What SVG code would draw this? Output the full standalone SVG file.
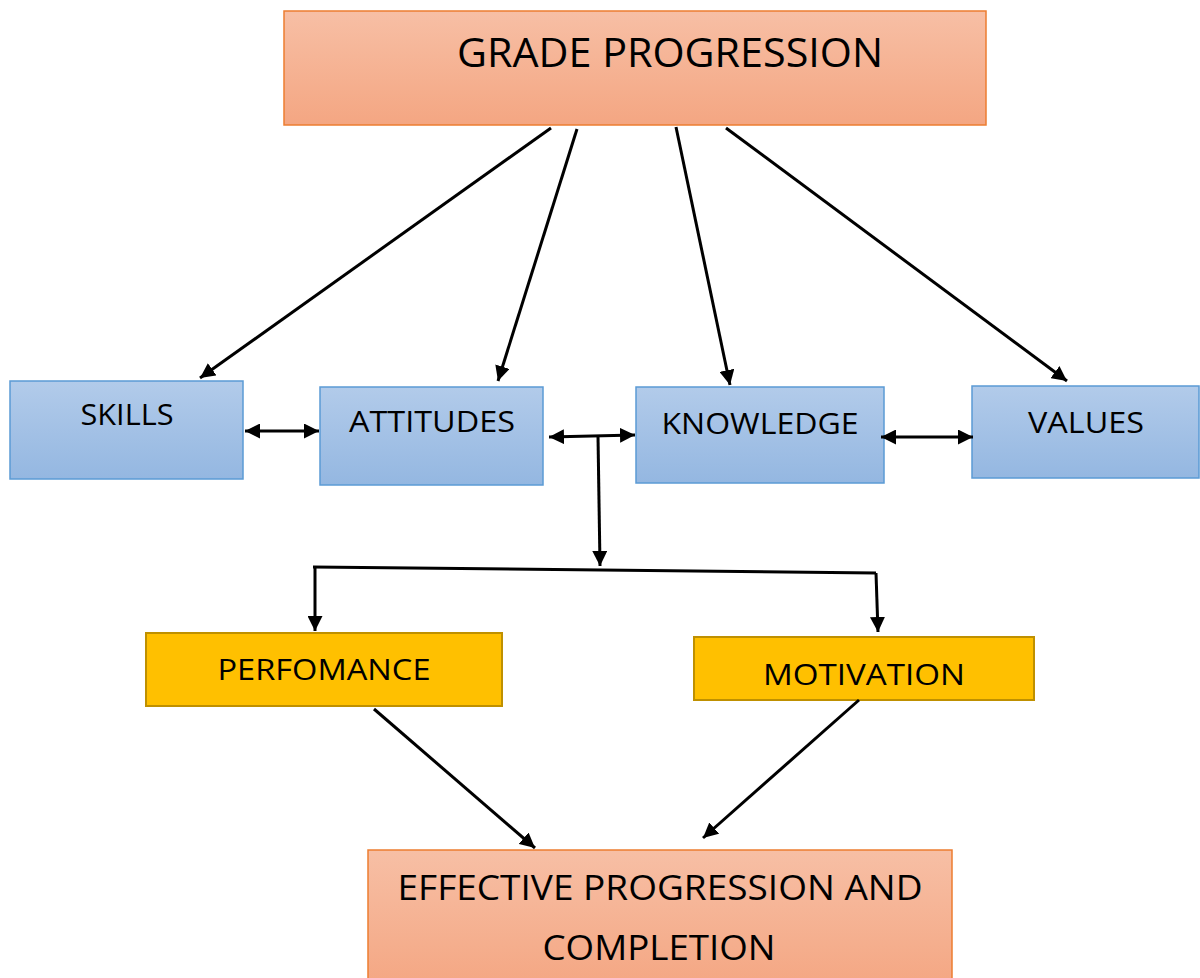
<svg xmlns="http://www.w3.org/2000/svg" width="1200" height="978" viewBox="0 0 1200 978">
<style>
.t{font-family:"Open Sans","Liberation Sans",sans-serif;fill:#000;text-anchor:middle}
.orange{fill:url(#go);stroke:#ed7d31;stroke-width:1.5}
.blue{fill:url(#gb);stroke:#5b9bd5;stroke-width:1.5}
.yellow{fill:#ffc000;stroke:#bf9000;stroke-width:2}
.c{stroke:#000;stroke-width:3;fill:none}
.a{marker-end:url(#ah)}
.d{marker-end:url(#ah);marker-start:url(#ahs)}
</style>
<defs>
<linearGradient id="go" x1="0" y1="0" x2="0" y2="1"><stop offset="0" stop-color="#f7bfa5"/><stop offset="1" stop-color="#f4a682"/></linearGradient>
<linearGradient id="gb" x1="0" y1="0" x2="0" y2="1"><stop offset="0" stop-color="#b2cbea"/><stop offset="1" stop-color="#94b7e1"/></linearGradient>
<marker id="ah" viewBox="0 0 10 10" refX="10" refY="5" markerWidth="5" markerHeight="5" markerUnits="strokeWidth" orient="auto"><path d="M0,0L10,5L0,10z" fill="#000"/></marker>
<marker id="ahs" viewBox="0 0 10 10" refX="0" refY="5" markerWidth="5" markerHeight="5" markerUnits="strokeWidth" orient="auto"><path d="M10,0L0,5L10,10z" fill="#000"/></marker>
</defs>
<g id="grade-progression"><rect class="orange" x="284" y="11" width="702" height="114"/><text class="t" x="670" y="67" font-size="40" textLength="426" lengthAdjust="spacingAndGlyphs">GRADE PROGRESSION</text></g>
<g id="skills"><rect class="blue" x="10" y="381" width="233" height="98"/><text class="t" x="127" y="425" font-size="30" textLength="93" lengthAdjust="spacingAndGlyphs">SKILLS</text></g>
<g id="attitudes"><rect class="blue" x="320" y="387" width="223" height="98"/><text class="t" x="432" y="432" font-size="30" textLength="166" lengthAdjust="spacingAndGlyphs">ATTITUDES</text></g>
<g id="knowledge"><rect class="blue" x="636" y="387" width="248" height="96"/><text class="t" x="760" y="434" font-size="30" textLength="197" lengthAdjust="spacingAndGlyphs">KNOWLEDGE</text></g>
<g id="values"><rect class="blue" x="972" y="386" width="227" height="92"/><text class="t" x="1086" y="433" font-size="30" textLength="116" lengthAdjust="spacingAndGlyphs">VALUES</text></g>
<g id="perfomance"><rect class="yellow" x="146" y="633" width="356" height="73"/><text class="t" x="324" y="680" font-size="30" textLength="213" lengthAdjust="spacingAndGlyphs">PERFOMANCE</text></g>
<g id="motivation"><rect class="yellow" x="694" y="637" width="340" height="63"/><text class="t" x="864" y="685" font-size="30" textLength="202" lengthAdjust="spacingAndGlyphs">MOTIVATION</text></g>
<g id="effective-progression"><rect class="orange" x="368" y="850" width="584" height="140"/><text class="t" x="660" y="900" font-size="34" textLength="525" lengthAdjust="spacingAndGlyphs">EFFECTIVE PROGRESSION AND</text><text class="t" x="659" y="960" font-size="34" textLength="233" lengthAdjust="spacingAndGlyphs">COMPLETION</text></g>
<g id="connectors">
<line class="c a" x1="551" y1="128" x2="200" y2="378"/>
<line class="c a" x1="577" y1="129" x2="498" y2="381"/>
<line class="c a" x1="676" y1="127" x2="730" y2="385"/>
<line class="c a" x1="726" y1="128" x2="1067" y2="381"/>
<line class="c d" x1="245" y1="431" x2="319" y2="431"/>
<line class="c d" x1="549" y1="437" x2="635" y2="435"/>
<line class="c d" x1="881" y1="437" x2="973" y2="437"/>
<line class="c a" x1="598" y1="436" x2="600" y2="566"/>
<polyline class="c" points="313,567 876,573"/>
<line class="c a" x1="315" y1="567" x2="315" y2="631"/>
<line class="c a" x1="876" y1="573" x2="878" y2="632"/>
<line class="c a" x1="374" y1="709" x2="535" y2="848"/>
<line class="c a" x1="859" y1="700" x2="703" y2="838"/>
</g>
</svg>
